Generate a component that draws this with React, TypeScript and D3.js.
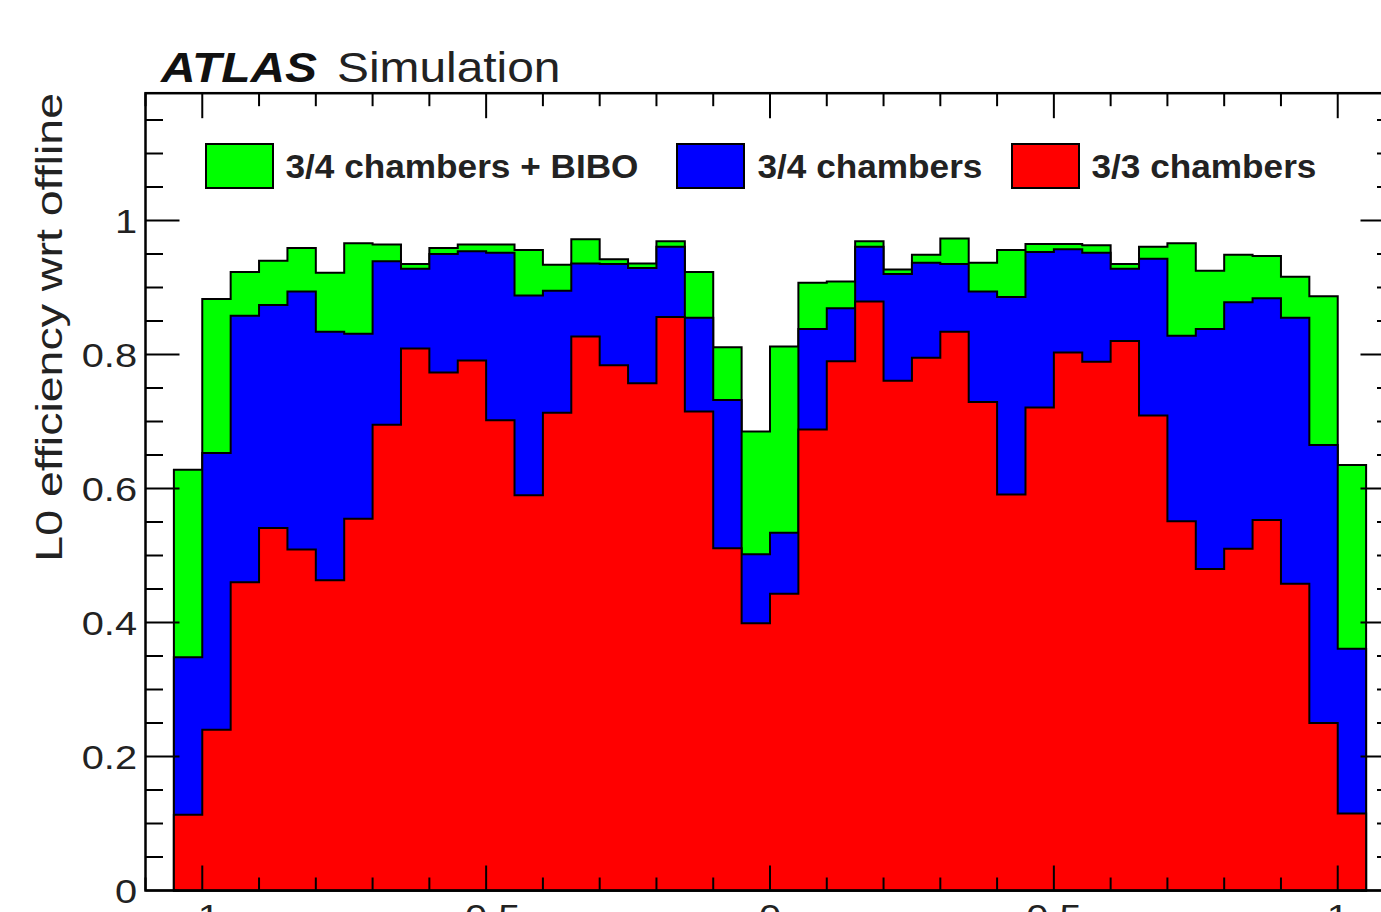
import React from "react";
import * as d3 from "d3";

// Bin structure: 42 bins of width 0.05 from -1.05 to 1.05
const binLow = -1.05;
const binWidth = 0.05;

// 3/4 chambers + BIBO
const greenValues = [
  0.628, 0.883, 0.923, 0.94, 0.959, 0.922, 0.966, 0.964, 0.935, 0.959,
  0.964, 0.964, 0.956, 0.934, 0.972, 0.942, 0.936, 0.969, 0.923, 0.811,
  0.685, 0.812, 0.907, 0.909, 0.969, 0.927, 0.949, 0.973, 0.937, 0.956,
  0.965, 0.965, 0.963, 0.935, 0.961, 0.966, 0.925, 0.949, 0.947, 0.916,
  0.887, 0.635,
];
// 3/4 chambers
const blueValues = [
  0.348, 0.653, 0.858, 0.874, 0.894, 0.834, 0.831, 0.939, 0.928, 0.95,
  0.954, 0.952, 0.888, 0.895, 0.936, 0.935, 0.929, 0.961, 0.855, 0.732,
  0.502, 0.534, 0.838, 0.869, 0.961, 0.92, 0.937, 0.935, 0.894, 0.886,
  0.953, 0.957, 0.952, 0.928, 0.943, 0.828, 0.838, 0.878, 0.884, 0.855,
  0.665, 0.361,
];
// 3/3 chambers
const redValues = [
  0.113, 0.24, 0.46, 0.541, 0.509, 0.463, 0.555, 0.695, 0.809, 0.773,
  0.791, 0.702, 0.59, 0.713, 0.827, 0.784, 0.757, 0.856, 0.715, 0.511,
  0.399, 0.443, 0.688, 0.79, 0.879, 0.761, 0.795, 0.834, 0.729, 0.591,
  0.721, 0.803, 0.789, 0.82, 0.709, 0.551, 0.48, 0.51, 0.553, 0.458,
  0.25, 0.115,
];

const seriesNames = ["3/4 chambers + BIBO", "3/4 chambers", "3/3 chambers"];
const seriesColors = ["#00ff00", "#0000ff", "#ff0000"];

const xMajorTicks = [-1, -0.5, 0, 0.5, 1];
const xTickLabels = ["-1", "-0.5", "0", "0.5", "1"];
const yMajorTicks = [0, 0.2, 0.4, 0.6, 0.8, 1];
const yTickLabels = ["0", "0.2", "0.4", "0.6", "0.8", "1"];

const W = 1381;
const H = 912;
const FONT = "'Liberation Sans', Arial, Helvetica, sans-serif";

const x = d3.scaleLinear().domain([-1.1, 1.1]).range([145.5, 1394.5]);
const y = d3.scaleLinear().domain([0, 1.19]).range([890.5, 93.2]);

function histPath(values: number[]): string {
  const pts: [number, number][] = [];
  const e0 = binLow;
  pts.push([x(e0), y(0)]);
  values.forEach((v, i) => {
    const a = binLow + i * binWidth;
    const b = binLow + (i + 1) * binWidth;
    pts.push([x(a), y(v)]);
    pts.push([x(b), y(v)]);
  });
  pts.push([x(binLow + values.length * binWidth), y(0)]);
  return (d3.line()(pts) || "") + "Z";
}

export default function App() {
  const series = [greenValues, blueValues, redValues];
  const left = x(-1.1);
  const right = x(1.1);
  const top = y(1.19);
  const bottom = y(0);

  const xMinor = d3.range(-11, 12).map((k) => k / 10);
  const yMinor = d3.range(0, 24).map((k) => k * 0.05).filter((v) => v < 1.19);

  const xMajLen = 25;
  const xMinLen = 13;
  const yMajLen = 34;
  const yMinLen = 17.5;

  const legendBoxes = [206, 677, 1012];
  const legendTextX = [285.5, 757.5, 1091.5];

  return (
    <svg
      width={W}
      height={H}
      style={{ position: "fixed", left: 0, top: 0, background: "#fff" }}
    >
      <rect x={0} y={0} width={W} height={H} fill="#fff" />
      {series.map((vals, i) => (
        <path
          key={i}
          d={histPath(vals)}
          fill={seriesColors[i]}
          stroke="#000"
          strokeWidth={2}
          strokeLinejoin="miter"
        />
      ))}
      {/* x ticks bottom & top */}
      <g stroke="#000" strokeWidth={2}>
        {xMinor.map((v, i) => {
          const isMaj = xMajorTicks.some((t) => Math.abs(t - v) < 1e-9);
          const len = isMaj ? xMajLen : xMinLen;
          return (
            <g key={"xt" + i}>
              <line x1={x(v)} x2={x(v)} y1={bottom} y2={bottom - len} />
              <line x1={x(v)} x2={x(v)} y1={top} y2={top + len} />
            </g>
          );
        })}
        {yMinor.map((v, i) => {
          const isMaj = yMajorTicks.some((t) => Math.abs(t - v) < 1e-9);
          const len = isMaj ? yMajLen : yMinLen;
          return (
            <g key={"yt" + i}>
              <line x1={left} x2={left + len} y1={y(v)} y2={y(v)} />
              <line x1={right} x2={right - len} y1={y(v)} y2={y(v)} />
            </g>
          );
        })}
      </g>
      <rect
        x={left}
        y={top}
        width={right - left}
        height={bottom - top}
        fill="none"
        stroke="#000"
        strokeWidth={2.5}
      />
      {/* y tick labels */}
      <g fontFamily={FONT} fontSize={34} fill="#222">
        {yMajorTicks.map((v, i) => (
          <text
            key={"yl" + i}
            transform={`translate(137,${y(v) + 12}) scale(1.17,1)`}
            textAnchor="end"
          >
            {yTickLabels[i]}
          </text>
        ))}
        {xMajorTicks.map((v, i) => (
          <text
            key={"xl" + i}
            transform={`translate(${x(v)},928) scale(1.17,1)`}
            textAnchor="middle"
          >
            {xTickLabels[i]}
          </text>
        ))}
      </g>
      {/* y axis title */}
      <text
        transform="translate(62,93) rotate(-90) scale(1.24,1)"
        textAnchor="end"
        fontFamily={FONT}
        fontSize={37.5}
        fill="#222"
      >
        L0 efficiency wrt offline
      </text>
      {/* ATLAS label */}
      <text
        transform="translate(161,81.7) scale(1.14,1)"
        fontFamily={FONT}
        fontSize={42}
        fontWeight="bold"
        fontStyle="italic"
        fill="#111"
      >
        ATLAS
      </text>
      <text
        transform="translate(337,81.7) scale(1.14,1)"
        fontFamily={FONT}
        fontSize={42}
        fill="#222"
      >
        Simulation
      </text>
      {/* legend */}
      {seriesNames.map((name, i) => (
        <g key={"lg" + i}>
          <rect
            x={legendBoxes[i]}
            y={144}
            width={67}
            height={44}
            fill={seriesColors[i]}
            stroke="#000"
            strokeWidth={2}
          />
          <text
            transform={`translate(${legendTextX[i]},178.3) scale(1.035,1)`}
            fontFamily={FONT}
            fontSize={34}
            fontWeight="bold"
            fill="#222"
          >
            {name}
          </text>
        </g>
      ))}
    </svg>
  );
}
